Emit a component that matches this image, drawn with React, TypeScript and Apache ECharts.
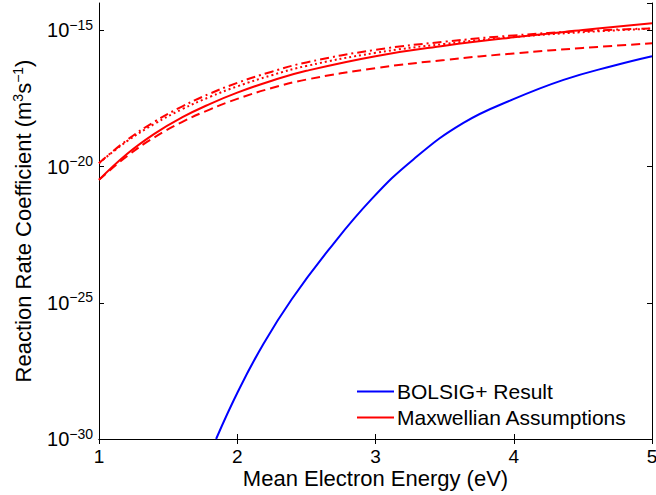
import React, { useEffect, useRef } from "react";
import * as echarts from "echarts";

// Mean electron energy (eV) sample points
const X_MAXWELL = [1, 1.2, 1.4, 1.6, 1.8, 2, 2.25, 2.5, 3, 3.5, 4, 4.5, 5];
// Maxwellian assumption curves (m^3 s^-1)
const MAXWELL_SOLID = [3.24e-21, 2.82e-20, 1.58e-19, 6.31e-19, 1.95e-18, 5.13e-18, 1.41e-17, 3.24e-17, 1.12e-16, 2.69e-16, 5.5e-16, 1.02e-15, 1.82e-15];
const MAXWELL_DASH = [3.24e-21, 2.34e-20, 1.17e-19, 4.27e-19, 1.23e-18, 3.02e-18, 7.59e-18, 1.55e-17, 4.07e-17, 8.13e-17, 1.41e-16, 2.24e-16, 3.31e-16];
const MAXWELL_DASHDOT = [1.32e-20, 9.12e-20, 4.37e-19, 1.58e-18, 4.68e-18, 1.17e-17, 3.02e-17, 6.61e-17, 1.91e-16, 3.8e-16, 6.46e-16, 9.33e-16, 1.17e-15];
const MAXWELL_DOT = [1.32e-20, 8.32e-20, 3.63e-19, 1.26e-18, 3.55e-18, 8.71e-18, 2.24e-17, 4.9e-17, 1.48e-16, 3.16e-16, 5.62e-16, 8.51e-16, 1.15e-15];
// BOLSIG+ result
const X_BOLSIG = [1.847, 2.008, 2.189, 2.394, 2.659, 2.973, 3.274, 3.636, 3.998, 4.36, 4.721, 5.0];
const BOLSIG = [1e-30, 5.89e-29, 3.09e-27, 1.35e-25, 8.51e-24, 6.46e-22, 1.82e-20, 3.98e-19, 2.95e-18, 1.51e-17, 5.01e-17, 1.12e-16];

const X_MIN = 1;
const X_MAX = 5;
// y range as powers of ten; labelled every 5 decades
const Y_EXP_MIN = -30;
const Y_EXP_MAX = -14;
const Y_EXP_STEP = 5;

const FONT = "'Liberation Sans', Arial, Helvetica, sans-serif";

function pairs(xs: number[], ys: number[]) {
  return xs.map((x, i) => [x, ys[i]]);
}

export default function App() {
  const ref = useRef<HTMLDivElement>(null);
  useEffect(() => {
    if (!ref.current) return;
    const chart = echarts.init(ref.current, null, { renderer: "svg" });
    const yMin = Math.pow(10, Y_EXP_MIN);
    const yMax = Math.pow(10, Y_EXP_MAX);
    // labels come from a linear axis that spans the same decades as the log axis
    const yLabel = (v: number) => {
      const e = Math.round(v);
      if (Math.abs(e % Y_EXP_STEP) !== 0) return "";
      return "{b|10}{s|" + (e < 0 ? "\u2212" + -e : String(e)) + "}";
    };
    const gridRect = { left: 99, right: 4, top: 3, bottom: 56, containLabel: false, outerBoundsMode: "none" };
    const lineBase = {
      type: "line",
      showSymbol: false,
      symbol: "none",
      smooth: 0.45,
      xAxisIndex: 0,
      yAxisIndex: 0,
      clip: true,
    };
    const tick = { show: true, inside: true, length: 5, lineStyle: { color: "#000" } };
    const axLine = { show: true, lineStyle: { color: "#000", width: 1 } };
    chart.setOption({
      animation: false,
      backgroundColor: "#ffffff",
      textStyle: { fontFamily: FONT, color: "#000" },
      grid: [gridRect, { ...gridRect }],
      legend: {
        left: 357,
        top: 381,
        padding: 0,
        orient: "vertical",
        itemWidth: 37,
        itemHeight: 2,
        itemGap: 5,
        icon: "rect",
        textStyle: { fontFamily: FONT, fontSize: 21, color: "#000", padding: [0, 0, 0, -2] },
        data: ["BOLSIG+ Result", "Maxwellian Assumptions"],
      },
      xAxis: [
        {
          type: "value",
          gridIndex: 0,
          min: X_MIN,
          max: X_MAX,
          interval: 1,
          position: "bottom",
          name: "Mean Electron Energy (eV)",
          nameLocation: "middle",
          nameGap: 28,
          nameMoveOverlap: false,
          nameTextStyle: { fontFamily: FONT, fontSize: 22, color: "#000" },
          axisLine: axLine,
          axisTick: tick,
          axisLabel: { show: true, margin: 8, fontFamily: FONT, fontSize: 19, color: "#000", hideOverlap: false },
          splitLine: { show: false },
        },
        {
          type: "value",
          gridIndex: 0,
          min: X_MIN,
          max: X_MAX,
          interval: 1,
          position: "top",
          axisLine: axLine,
          axisTick: tick,
          axisLabel: { show: false },
          splitLine: { show: false },
        },
        {
          type: "value",
          gridIndex: 1,
          min: X_MIN,
          max: X_MAX,
          show: false,
        },
      ],
      yAxis: [
        {
          type: "log",
          logBase: 10,
          gridIndex: 0,
          min: yMin,
          max: yMax,
          position: "left",
          name: "Reaction Rate Coefficient (m{sup|3}s{sup|\u22121})",
          nameLocation: "middle",
          nameRotate: 90,
          nameGap: 64,
          nameMoveOverlap: false,
          nameTextStyle: {
            fontFamily: FONT,
            fontSize: 22,
            color: "#000",
            rich: { sup: { fontFamily: FONT, fontSize: 14, color: "#000", padding: [0, 0, 10, 0] } },
          },
          axisLine: axLine,
          axisTick: { show: false },
          axisLabel: { show: false },
          splitLine: { show: false },
          minorTick: { show: false },
        },
        {
          type: "log",
          logBase: 10,
          gridIndex: 0,
          min: yMin,
          max: yMax,
          position: "right",
          axisLine: axLine,
          axisTick: { show: false },
          axisLabel: { show: false },
          splitLine: { show: false },
        },
        {
          type: "value",
          gridIndex: 1,
          min: Y_EXP_MIN,
          max: Y_EXP_MAX,
          interval: Y_EXP_STEP,
          position: "left",
          axisLine: { show: false },
          axisTick: tick,
          splitLine: { show: false },
          axisLabel: {
            show: true,
            showMaxLabel: false,
            showMinLabel: true,
            hideOverlap: false,
            margin: 6,
            fontFamily: FONT,
            fontSize: 20,
            color: "#000",
            formatter: yLabel,
            rich: {
              b: { fontFamily: FONT, fontSize: 20, color: "#000" },
              s: { fontFamily: FONT, fontSize: 14, color: "#000", padding: [0, 0, 11, 0] },
            },
          },
        },
        {
          type: "value",
          gridIndex: 1,
          min: Y_EXP_MIN,
          max: Y_EXP_MAX,
          interval: Y_EXP_STEP,
          position: "right",
          axisLine: { show: false },
          axisTick: tick,
          splitLine: { show: false },
          axisLabel: { show: false },
        },
      ],
      series: [
        {
          ...lineBase,
          name: "BOLSIG+ Result",
          data: pairs(X_BOLSIG, BOLSIG),
          color: "#0000ff",
          lineStyle: { color: "#0000ff", width: 2 },
        },
        {
          ...lineBase,
          name: "Maxwellian Assumptions",
          data: pairs(X_MAXWELL, MAXWELL_SOLID),
          color: "#ff0000",
          lineStyle: { color: "#ff0000", width: 2 },
        },
        {
          ...lineBase,
          name: "Maxwellian (dashed)",
          data: pairs(X_MAXWELL, MAXWELL_DASH),
          color: "#ff0000",
          lineStyle: { color: "#ff0000", width: 2, type: [9, 5] },
        },
        {
          ...lineBase,
          name: "Maxwellian (dash-dot)",
          data: pairs(X_MAXWELL, MAXWELL_DASHDOT),
          color: "#ff0000",
          lineStyle: { color: "#ff0000", width: 2, type: [9, 4, 2, 4] },
        },
        {
          ...lineBase,
          name: "Maxwellian (dotted)",
          data: pairs(X_MAXWELL, MAXWELL_DOT),
          color: "#ff0000",
          lineStyle: { color: "#ff0000", width: 2, type: [2, 3] },
        },
      ],
    });
    return () => chart.dispose();
  }, []);
  return (
    <div
      ref={ref}
      style={{ position: "fixed", left: 0, top: 0, width: 656, height: 495, background: "#fff" }}
    />
  );
}
